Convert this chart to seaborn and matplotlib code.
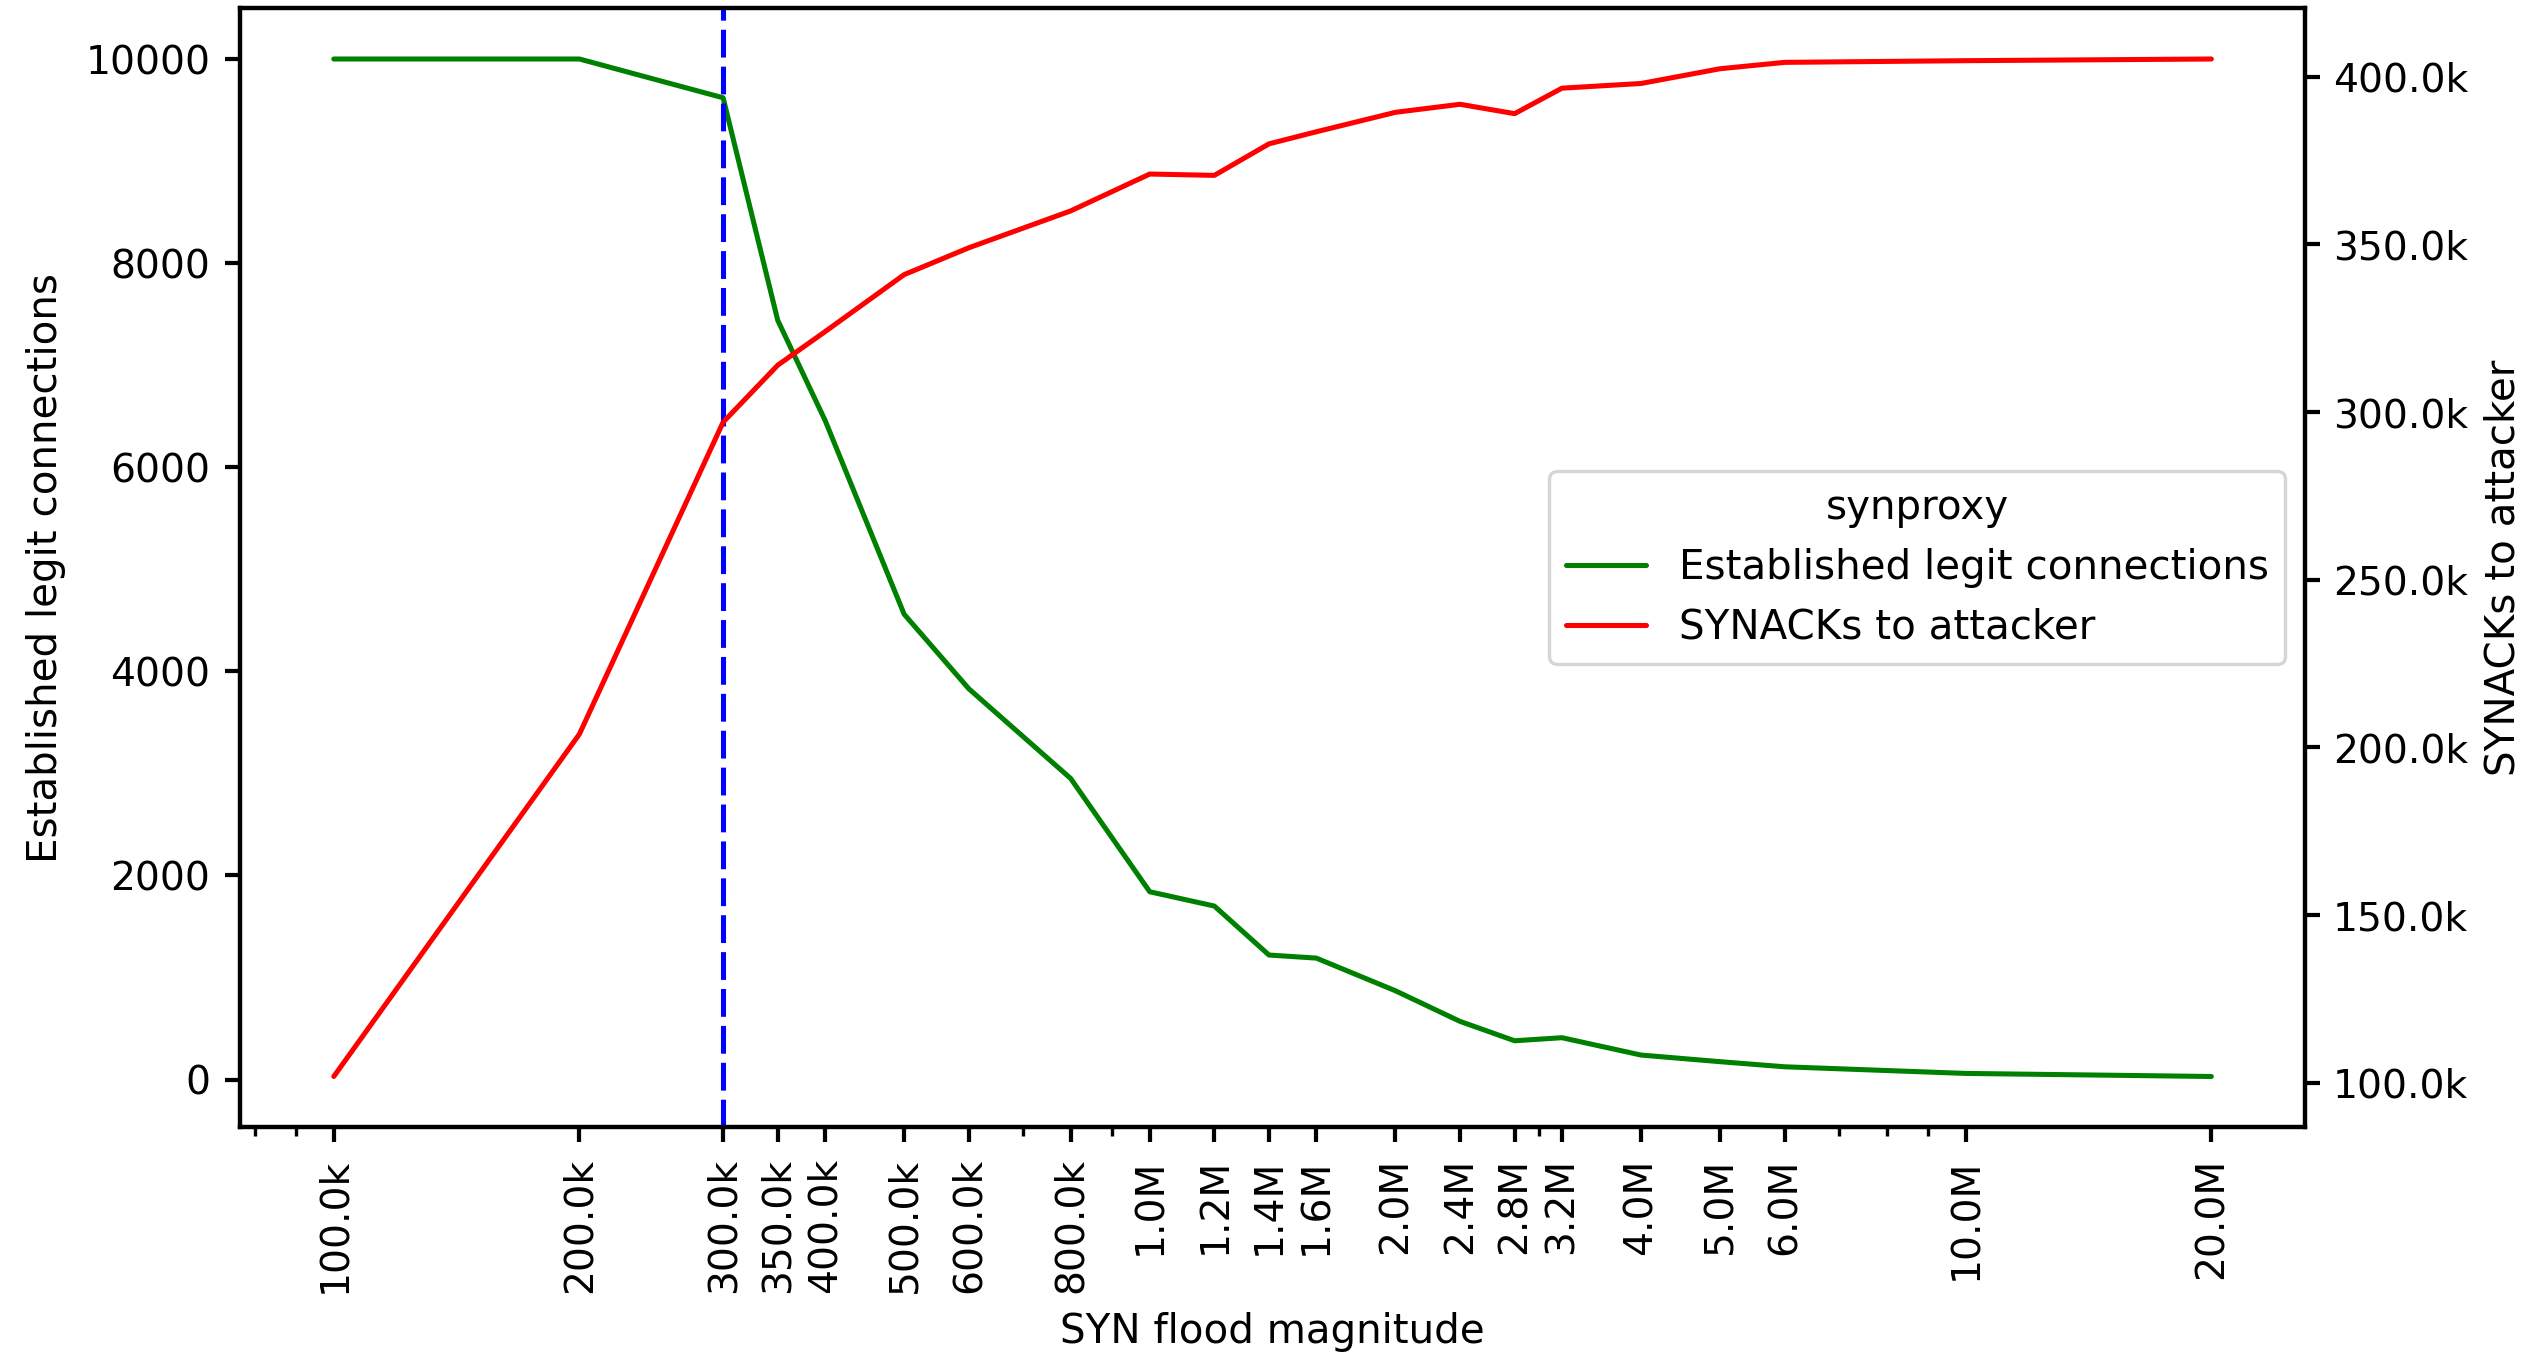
import pandas as pd
import matplotlib
matplotlib.use('Agg')
import matplotlib.pyplot as plt
import matplotlib.ticker as mticker
import seaborn as sns

# SYN flood magnitude (packets)
magnitude = [100e3, 200e3, 300e3, 350e3, 400e3, 500e3, 600e3, 800e3,
             1.0e6, 1.2e6, 1.4e6, 1.6e6, 2.0e6, 2.4e6, 2.8e6, 3.2e6,
             4.0e6, 5.0e6, 6.0e6, 10e6, 20e6]
established = [10000, 10000, 9620, 7440, 6460, 4560, 3830, 2950,
               1840, 1700, 1220, 1190, 870, 570, 380, 410,
               240, 175, 125, 60, 30]
synacks = [101.9e3, 204e3, 297e3, 314e3, 324e3, 341e3, 349e3, 360e3,
           371e3, 370.6e3, 380e3, 383.6e3, 389.4e3, 391.8e3, 389e3, 396.6e3,
           398e3, 402.4e3, 404.3e3, 404.8e3, 405.3e3]
threshold = 300e3

data = pd.DataFrame({'magnitude': magnitude,
                     'established': established,
                     'synacks': synacks})


def kfmt(x, pos=None):
    if x >= 1e6:
        return '{:.1f}M'.format(x / 1e6)
    return '{:.1f}k'.format(x / 1e3)


sns.set_theme(context='talk', style='ticks', rc={
    'axes.edgecolor': 'black', 'text.color': 'black',
    'axes.labelcolor': 'black', 'xtick.color': 'black', 'ytick.color': 'black',
    'xtick.labelsize': 17.5, 'ytick.labelsize': 17.5,
    'xtick.major.size': 6.7, 'ytick.major.size': 6.7,
    'xtick.minor.size': 4.2, 'ytick.minor.size': 4.2,
    'xtick.major.pad': 7, 'ytick.major.pad': 6.5,
    'axes.labelsize': 18, 'legend.fontsize': 18, 'legend.title_fontsize': 18,
})
plt.rcParams['font.family'] = ['DejaVu Sans']

dpi = 161.73
fig, ax = plt.subplots(figsize=(2536 / dpi, 1355 / dpi), dpi=dpi)
fig.subplots_adjust(left=0.0946, right=0.909, top=0.994, bottom=0.168)
ax2 = ax.twinx()

sns.lineplot(data=data, x='magnitude', y='established', color='green',
             label='Established legit connections', legend=False, ax=ax)
sns.lineplot(data=data, x='magnitude', y='synacks', color='red',
             label='SYNACKs to attacker', legend=False, ax=ax2)
ax.axvline(threshold, color='blue', linestyle=(0, (5.5, 1.8)))

ax.set_xscale('log')
ax.set_xticks(magnitude)
ax.xaxis.set_major_formatter(mticker.FuncFormatter(kfmt))
ax.xaxis.set_minor_formatter(mticker.NullFormatter())
ax.tick_params(axis='x', labelrotation=90)
ax2.yaxis.set_major_formatter(mticker.FuncFormatter(kfmt))
ax2.tick_params(axis='y', pad=5.5)

ax.set_xlabel('SYN flood magnitude', labelpad=8.5)
ax.set_ylabel('Established legit connections', labelpad=8.7)
ax2.set_ylabel('SYNACKs to attacker', labelpad=7)

for a in (ax, ax2):
    for s in a.spines.values():
        s.set_visible(True)

h1, l1 = ax.get_legend_handles_labels()
h2, l2 = ax2.get_legend_handles_labels()
ax2.legend(h1 + h2, l1 + l2, title='synproxy', loc='center right')

fig.savefig('out.png', dpi=dpi)
